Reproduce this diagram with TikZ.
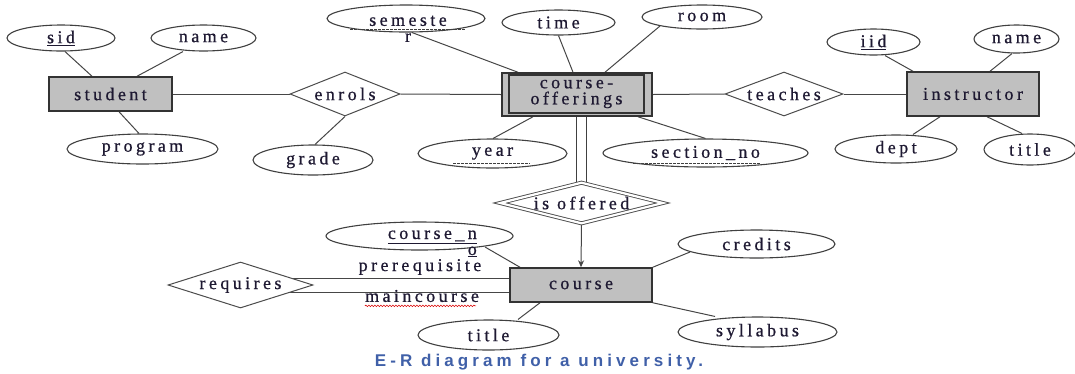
\documentclass[tikz,border=0pt]{standalone}
\usepackage{fontspec}
\usetikzlibrary{shapes.geometric,backgrounds,arrows.meta,decorations.pathmorphing}
\newfontfamily\erfont[LetterSpace=19,FakeBold=0.7]{Liberation Serif}
\newfontfamily\capfont[LetterSpace=24]{Liberation Sans}
\definecolor{txtc}{RGB}{30,25,50}
\definecolor{capc}{RGB}{64,96,168}
\definecolor{linec}{RGB}{70,70,70}
\definecolor{entfill}{RGB}{192,192,192}
\newcommand\erf{\erfont\fontsize{18pt}{16pt}\selectfont}
\begin{document}
\begin{tikzpicture}[x=1pt,y=-1pt,
  ent/.style={rectangle, draw=black!80, line width=1.5pt, fill=entfill, inner sep=0pt, font=\erf, text=txtc},
  attr/.style={ellipse, draw=black!75, line width=1.1pt, fill=white, inner sep=0pt, font=\erf, text=txtc},
  rel/.style={diamond, draw=black!70, line width=1pt, fill=white, inner sep=0pt},
  lbl/.style={font=\erf, text=txtc, inner sep=0pt},
  conn/.style={draw=linec, line width=1pt},
  dashul/.style={draw=black!75, line width=0.9pt, dash pattern=on 2.5pt off 1.5pt},
]
\useasboundingbox (0,0) rectangle (1075,373);
% student side
\node[ent, minimum width=123pt, minimum height=34pt] (student) at (110.5,94) {student};
\node[attr, minimum width=108pt, minimum height=26pt] (sid) at (61,38) {\underline{sid}};
\node[attr, minimum width=105pt, minimum height=26pt] (sname) at (203.5,38) {name};
\node[attr, minimum width=151pt, minimum height=30pt] (program) at (142.5,149) {program};
\node[rel, minimum width=110pt, minimum height=44pt] (enrols) at (345,94) {};
\node[lbl] (enrolst) at (enrols) {enrols};
\node[attr, minimum width=120pt, minimum height=30pt] (grade) at (313,160) {grade};
% course-offerings
\node[ent, minimum width=150pt, minimum height=43pt] (co) at (577,94.5) {};
\node[ent, minimum width=135pt, minimum height=38pt, align=center] (coi) at (576.5,94) {course-\\offerings};
\node[attr, minimum width=158pt, minimum height=27pt] (sem) at (406,18.5) {};
\node[lbl, align=center, anchor=north] (semt) at (408,15.5) {semeste\\r};
\node[attr, minimum width=113pt, minimum height=25pt] (time) at (558.5,22.5) {time};
\node[attr, minimum width=120pt, minimum height=24pt] (room) at (702,17) {room};
\node[attr, minimum width=149pt, minimum height=29pt] (year) at (492.5,153.5) {year};
\node[attr, minimum width=205pt, minimum height=28pt] (secno) at (705.5,153) {section\_no};
% instructor side
\node[rel, minimum width=118pt, minimum height=44pt] (teaches) at (784,94) {};
\node[lbl] (teachest) at (teaches) {teaches};
\node[ent, minimum width=132pt, minimum height=44pt] (instr) at (973,94) {instructor};
\node[attr, minimum width=93pt, minimum height=26pt] (iid) at (873.5,42) {\underline{iid}};
\node[attr, minimum width=85pt, minimum height=28pt] (iname) at (1016.5,39) {name};
\node[attr, minimum width=122pt, minimum height=28pt] (dept) at (896,149) {dept};
\node[attr, minimum width=92pt, minimum height=31pt] (ititle) at (1030,149.5) {title};
% course
\node[rel, double, double distance=2.2pt, line width=0.9pt, minimum width=163pt, minimum height=41pt] (isoff) at (581.5,203) {};
\node[lbl] (isofft) at (isoff) {is offered};
\node[ent, minimum width=142pt, minimum height=34pt] (course) at (581,285) {course};
\node[attr, minimum width=187pt, minimum height=28pt] (cno) at (419.5,236) {};
\node[lbl, anchor=base east] (cnot) at (477,239) {\underline{course\_n}};
\node[lbl, anchor=base east] (cnoo) at (477,255) {\underline{o}};
\node[attr, minimum width=157pt, minimum height=28pt] (credits) at (756.5,244) {credits};
\node[attr, minimum width=159pt, minimum height=30pt] (syl) at (757.5,332) {syllabus};
\node[attr, minimum width=141pt, minimum height=30pt] (ctitle) at (488.5,335) {title};
\node[rel, minimum width=145pt, minimum height=46pt] (req) at (240.5,285) {};
\node[lbl] (reqt) at (req) {requires};
\node[lbl] (prereq) at (420,267) {prerequisite};
\node[lbl] (mainc) at (422,296) {maincourse};
% dashed underlines (partial keys)
\draw[dashul] (350,29) -- (465,29);
\draw[dashul] (453,163) -- (530,163);
\draw[dashul] (633,163) -- (760,163);
\draw[red!85!black, line width=0.6pt, decorate, decoration={snake, amplitude=0.8pt, segment length=3pt}] ([yshift=-4pt]mainc.base west) -- ([yshift=-4pt,xshift=-3pt]mainc.base east);
% caption
\node[font=\capfont\bfseries\fontsize{17pt}{18pt}\selectfont, text=capc, inner sep=0pt] (cap) at (539,362) {E-R diagram for a university.};
% connectors
\begin{scope}[on background layer]
\draw[conn] ([xshift=4pt]sid.south) -- ([xshift=-18.5pt]student.north);
\draw[conn] ([xshift=-20.5pt]sname.south) -- ([xshift=26.5pt]student.north);
\draw[conn] ([xshift=-3.5pt]program.north) -- ([xshift=8.5pt]student.south);
\draw[conn] (student.east) -- (enrols.west);
\draw[conn] (enrols.east) -- (co.west);
\draw[conn] (enrols.south) -- ([xshift=2pt]grade.north);
\draw[conn] ([xshift=6pt]sem.south) -- ([xshift=-59pt]co.north);
\draw[conn] (time.south) -- ([xshift=-4pt]co.north);
\draw[conn] ([xshift=-42pt,yshift=-9pt]room.center) -- ([xshift=28pt]co.north);
\draw[conn] ([xshift=0.5pt]year.north) -- ([xshift=-44pt]co.south);
\draw[conn] (secno.north) -- ([xshift=61pt]co.south);
\draw[conn] (co.east) -- (teaches.west);
\draw[conn] (teaches.east) -- (instr.west);
\draw[conn] ([xshift=11.5pt]iid.south) -- ([xshift=-60pt]instr.north);
\draw[conn] ([xshift=-4.5pt]iname.south) -- ([xshift=17pt]instr.north);
\draw[conn] ([xshift=17pt]dept.north) -- ([xshift=-33pt]instr.south);
\draw[conn] ([xshift=-8pt]ititle.north) -- ([xshift=14pt]instr.south);
\draw[draw=black!75, line width=1.2pt, double=white, double distance=9pt] ([xshift=4.5pt]co.south) -- (isoff.north);
\draw[conn, -{Stealth[length=7pt,width=6pt]}] (isoff.south) -- (course.north);
\draw[conn] ([xshift=65.5pt,yshift=-11pt]cno.center) -- ([xshift=-61pt]course.north);
\draw[conn] ([xshift=-66.5pt,yshift=-8pt]credits.center) -- (course.north east);
\draw[conn] ([xshift=-42.5pt]syl.north) -- (course.south east);
\draw[conn] ([xshift=29.5pt]ctitle.north) -- ([xshift=-41pt]course.south);
\draw[conn] ([yshift=7pt]req.center) -- ([yshift=7pt]course.west);
\draw[conn] ([yshift=-7pt]req.center) -- ([yshift=-7pt]course.west);
\end{scope}
\end{tikzpicture}
\end{document}
